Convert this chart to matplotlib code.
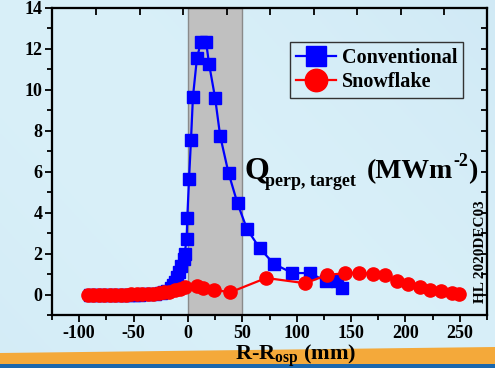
import numpy as np
import matplotlib
matplotlib.use('Agg')
import matplotlib.pyplot as plt
from matplotlib.patches import Polygon
from matplotlib.ticker import MultipleLocator

plt.rcParams['font.family'] = 'Liberation Serif'
plt.rcParams['font.weight'] = 'bold'
plt.rcParams['axes.unicode_minus'] = False
plt.rcParams['mathtext.fontset'] = 'custom'
plt.rcParams['mathtext.bf'] = 'Liberation Serif:bold'
plt.rcParams['mathtext.rm'] = 'Liberation Serif:bold'

# heat flux profiles along the target, R-R_osp in mm, q in MW m^-2
conv_x = [-90, -85, -80, -75, -70, -65, -60, -55, -50, -45, -40, -35, -30, -25,
          -22, -19, -16, -14, -12, -10, -8, -6, -4, -3, -1.2, -0.6, 1, 2.8, 4.6,
          8.3, 12, 16.7, 19.4, 25, 29.6, 37.3, 45.6, 54.3, 66, 79, 96, 112, 127,
          137, 142]
conv_q = [0.0, 0.0, 0.0, 0.0, 0.0, 0.0, 0.0, 0.0, 0.0, 0.0, 0.01, 0.02, 0.03, 0.06,
          0.1, 0.18, 0.3, 0.45, 0.62, 0.85, 1.1, 1.4, 1.75, 2.0, 2.72, 3.74, 5.64,
          7.55, 9.66, 11.56, 12.34, 12.34, 11.27, 9.6, 7.76, 5.94, 4.45, 3.2, 2.26,
          1.5, 1.05, 1.05, 0.65, 0.65, 0.3]

snow_x = [-92, -87, -82, -77, -72, -67, -62, -57, -52, -47, -42, -37, -32, -27,
          -22, -17, -12, -7, -3, 8, 14, 24, 39, 72, 108, 128, 144, 157, 170, 181,
          192, 202, 213, 223, 233, 243, 249]
snow_q = [0.0, 0.0, 0.0, 0.0, 0.0, 0.0, 0.0, 0.0, 0.01, 0.01, 0.02, 0.03, 0.05,
          0.07, 0.1, 0.14, 0.2, 0.28, 0.35, 0.44, 0.33, 0.23, 0.11, 0.81, 0.55,
          0.96, 1.04, 1.07, 1.0, 0.93, 0.68, 0.52, 0.36, 0.24, 0.16, 0.08, 0.03]

x_ticks = [-100, -50, 0, 50, 100, 150, 200, 250]
y_ticks = [0, 2, 4, 6, 8, 10, 12, 14]
# upper (OMP) axis ticks, expressed in R-R_osp units
omp_tick_pos = [-84.5, -44.5, -4.5, 35.5, 75.5, 115.5, 155.5, 195.5, 235.5]

fig = plt.figure(figsize=(4.95, 3.68), dpi=100)
fig.patch.set_facecolor('#cfeaf6')

# soft blue backdrop with the orange/blue footer band
bg = fig.add_axes([0, 0, 1, 1], zorder=-5)
yy, xx = np.mgrid[0:1:200j, 0:1:200j]
shade = 0.5 + 0.5 * np.sin(2.2 * xx + 1.5 * yy)
c0 = np.array([0.81, 0.91, 0.96])
c1 = np.array([0.85, 0.94, 0.975])
img = c0 + (c1 - c0) * shade[..., None]
bg.imshow(img, extent=[0, 1, 0, 1], aspect='auto', origin='lower')
bg.add_patch(Polygon([[0, 0], [1, 0], [1, 1 - 364 / 368], [0, 1 - 364 / 368]],
                     closed=True, color='#1a67ad', lw=0))
bg.add_patch(Polygon([[0, 1 - 364 / 368], [1, 1 - 364 / 368], [1, 1 - 347 / 368],
                      [0, 1 - 353 / 368]], closed=True, color='#f4a93a', lw=0))
bg.set_xlim(0, 1)
bg.set_ylim(0, 1)
bg.axis('off')

ax = fig.add_axes([52 / 495, 1 - 315 / 368, 435 / 495, 307 / 368])
ax.patch.set_alpha(0)

ax.axvspan(0, 50, facecolor='#c0c0c0', edgecolor='#8a8a8a', lw=1, zorder=1)

ax.plot(conv_x, conv_q, color='#0000ff', lw=1.6, marker='s', ms=8.5,
        mec='#0000ff', label='Conventional', zorder=3)
ax.plot(snow_x, snow_q, color='#ff0000', lw=1.6, marker='o', ms=9.5,
        mec='#ff0000', label='Snowflake', zorder=4)

ax.set_xlim(-125, 275)
ax.set_ylim(-1, 14)
ax.set_xticks(x_ticks)
ax.set_yticks(y_ticks)
ax.xaxis.set_minor_locator(MultipleLocator(25))
ax.yaxis.set_minor_locator(MultipleLocator(1))
ax.tick_params(which='both', direction='out', width=1.3, labelsize=13,
               top=False, right=False, pad=2)
ax.tick_params(which='major', length=5)
ax.tick_params(which='minor', length=3.5)
for s in ax.spines.values():
    s.set_linewidth(1.5)
for lab in ax.get_xticklabels() + ax.get_yticklabels():
    lab.set_fontweight('bold')

# top axis: inward ticks only
axt = ax.twiny()
axt.set_xlim(ax.get_xlim())
axt.set_xticks(omp_tick_pos)
axt.tick_params(direction='in', length=5, width=1.3, labeltop=False)
# right axis: inward ticks every unit
axr = ax.twinx()
axr.set_ylim(ax.get_ylim())
axr.yaxis.set_major_locator(MultipleLocator(1))
axr.tick_params(direction='in', length=4, width=1.3, labelright=False)
for a in (axt, axr):
    a.patch.set_alpha(0)
    for s in a.spines.values():
        s.set_linewidth(1.5)

leg = ax.legend(loc='upper left', bbox_to_anchor=(0.546, 0.889), borderaxespad=0,
                prop={'family': 'Liberation Serif', 'weight': 'bold', 'size': 14.5},
                markerscale=1.7, handlelength=2.0, handletextpad=0.3,
                labelspacing=0.2, borderpad=0.3, fancybox=False,
                edgecolor='#333333', facecolor='none', framealpha=1)
leg.get_frame().set_linewidth(1.0)
leg.set_zorder(10)

# quantity label: Q with a small subscript, then the units with a plain "-2"
fig.text(245 / 495, 1 - 178 / 368, 'Q', fontsize=23, fontweight='bold',
         ha='left', va='baseline')
fig.text(265 / 495, 1 - 186 / 368, 'perp, target', fontsize=13, fontweight='bold',
         ha='left', va='baseline')
renderer = fig.canvas.get_renderer()
unit_a = fig.text(367 / 495, 1 - 178 / 368, '(MWm', fontsize=20,
                  fontweight='bold', ha='left', va='baseline')
x_end = unit_a.get_window_extent(renderer).x1 / fig.bbox.width
unit_b = fig.text(x_end, 1 - 166 / 368, '-2', fontsize=13,
                  fontweight='bold', ha='left', va='baseline')
x_end = unit_b.get_window_extent(renderer).x1 / fig.bbox.width
fig.text(x_end, 1 - 178 / 368, ')', fontsize=20, fontweight='bold',
         ha='left', va='baseline')

fig.text(480 / 495, 1 - 303 / 368, 'HL 2020DEC03', rotation=90, fontsize=11,
         fontweight='bold', ha='center', va='bottom')

fig.text(235 / 495, 1 - 360 / 368, r'R-R$_{\mathbf{osp}}$ (mm)', fontsize=16,
         fontweight='bold', ha='left', va='baseline')
fig.text(232 / 495, 1 + 14 / 368, r'R-R$_{\mathbf{OMP}}$ (mm)', fontsize=16,
         fontweight='bold', ha='left', va='baseline')

fig.savefig('out.png', dpi=100, facecolor=fig.get_facecolor())
